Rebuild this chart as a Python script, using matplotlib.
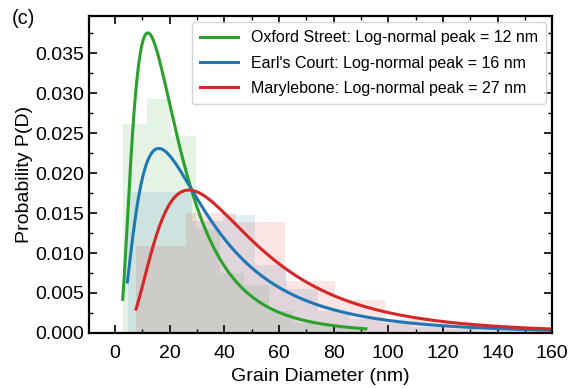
import numpy as np
import matplotlib
matplotlib.use("Agg")
import matplotlib.pyplot as plt
from matplotlib.ticker import MultipleLocator

plt.rcParams['font.family'] = ['Liberation Sans', 'DejaVu Sans']

# ---- data ----
labels = ["Oxford Street: Log-normal peak = 12 nm",
          "Earl's Court: Log-normal peak = 16 nm",
          "Marylebone: Log-normal peak = 27 nm"]
colors = ["#2ca02c", "#1f77b4", "#d62728"]

green_edges = [2.8, 11.7, 20.6, 29.5, 38.4, 47.3, 56.2, 65.1, 74.0, 82.9, 91.8]
green_heights = [0.0262, 0.0293, 0.0247, 0.0130, 0.0075, 0.0060, 0.0028, 0.0012, 0.0009, 0.0006]

blue_edges = [4.8, 16.4, 28.0, 39.6, 51.2, 62.8, 74.4, 86.0, 97.6, 109.2, 120.8, 132.4, 144.0, 155.6, 167.2]
blue_heights = [0.0177, 0.0177, 0.0140, 0.0148, 0.0085, 0.0055, 0.0028, 0.0018, 0.0012, 0.0008,
                0.0005, 0.0003, 0.0002, 0.0001]

red_edges = [7.7, 25.9, 44.1, 62.3, 80.5, 98.7, 116.9, 135.1, 153.3, 171.5]
red_heights = [0.0109, 0.0150, 0.0139, 0.0065, 0.0041, 0.0017, 0.0012, 0.0008, 0.0005]

# log-normal fit parameters (mode in nm, sigma of ln D)
fit_mode = [12.0, 16.0, 27.0]
fit_sigma = [0.695, 0.79, 0.663]
fit_range = [(2.8, 91.8), (4.5, 167.2), (7.7, 171.5)]

hist_edges = [green_edges, blue_edges, red_edges]
hist_heights = [green_heights, blue_heights, red_heights]

# ---- plot ----
fig = plt.figure(figsize=(5.71, 3.88), dpi=100)
ax = fig.add_axes([0.156, 0.142, 0.811, 0.817])

for e, h, c in zip(hist_edges, hist_heights, colors):
    ax.stairs(h, e, fill=True, color=c, alpha=0.12, linewidth=0)

for m, s, (lo, hi), c, lab in zip(fit_mode, fit_sigma, fit_range, colors, labels):
    mu = np.log(m) + s ** 2
    d = np.linspace(lo, hi, 500)
    p = np.exp(-(np.log(d) - mu) ** 2 / (2 * s ** 2)) / (d * s * np.sqrt(2 * np.pi))
    ax.plot(d, p, color=c, lw=2.2, label=lab)

ax.set_xlim(-9.5, 160)
ax.set_ylim(0, 0.0397)
ax.xaxis.set_major_locator(MultipleLocator(20))
ax.xaxis.set_minor_locator(MultipleLocator(10))
ax.yaxis.set_major_locator(MultipleLocator(0.005))
ax.yaxis.set_minor_locator(MultipleLocator(0.0025))
ax.tick_params(which='both', direction='in', top=True, right=True, labelsize=14)
ax.tick_params(which='major', length=6, width=1.2)
ax.tick_params(which='minor', length=3, width=1.0)
ax.tick_params(axis='x', which='both', pad=9)
for sp in ax.spines.values():
    sp.set_linewidth(1.6)

ax.set_xlabel("Grain Diameter (nm)", fontsize=14, labelpad=4)
ax.set_ylabel("Probability P(D)", fontsize=14, labelpad=2)

ax.legend(loc='upper right', fontsize=11.5, handlelength=2.4, frameon=True,
          labelspacing=0.65, borderaxespad=0.4, borderpad=0.5)
fig.text(0.021, 0.953, "(c)", fontsize=14.5, ha='left', va='center')

fig.savefig("out.png", dpi=100)
